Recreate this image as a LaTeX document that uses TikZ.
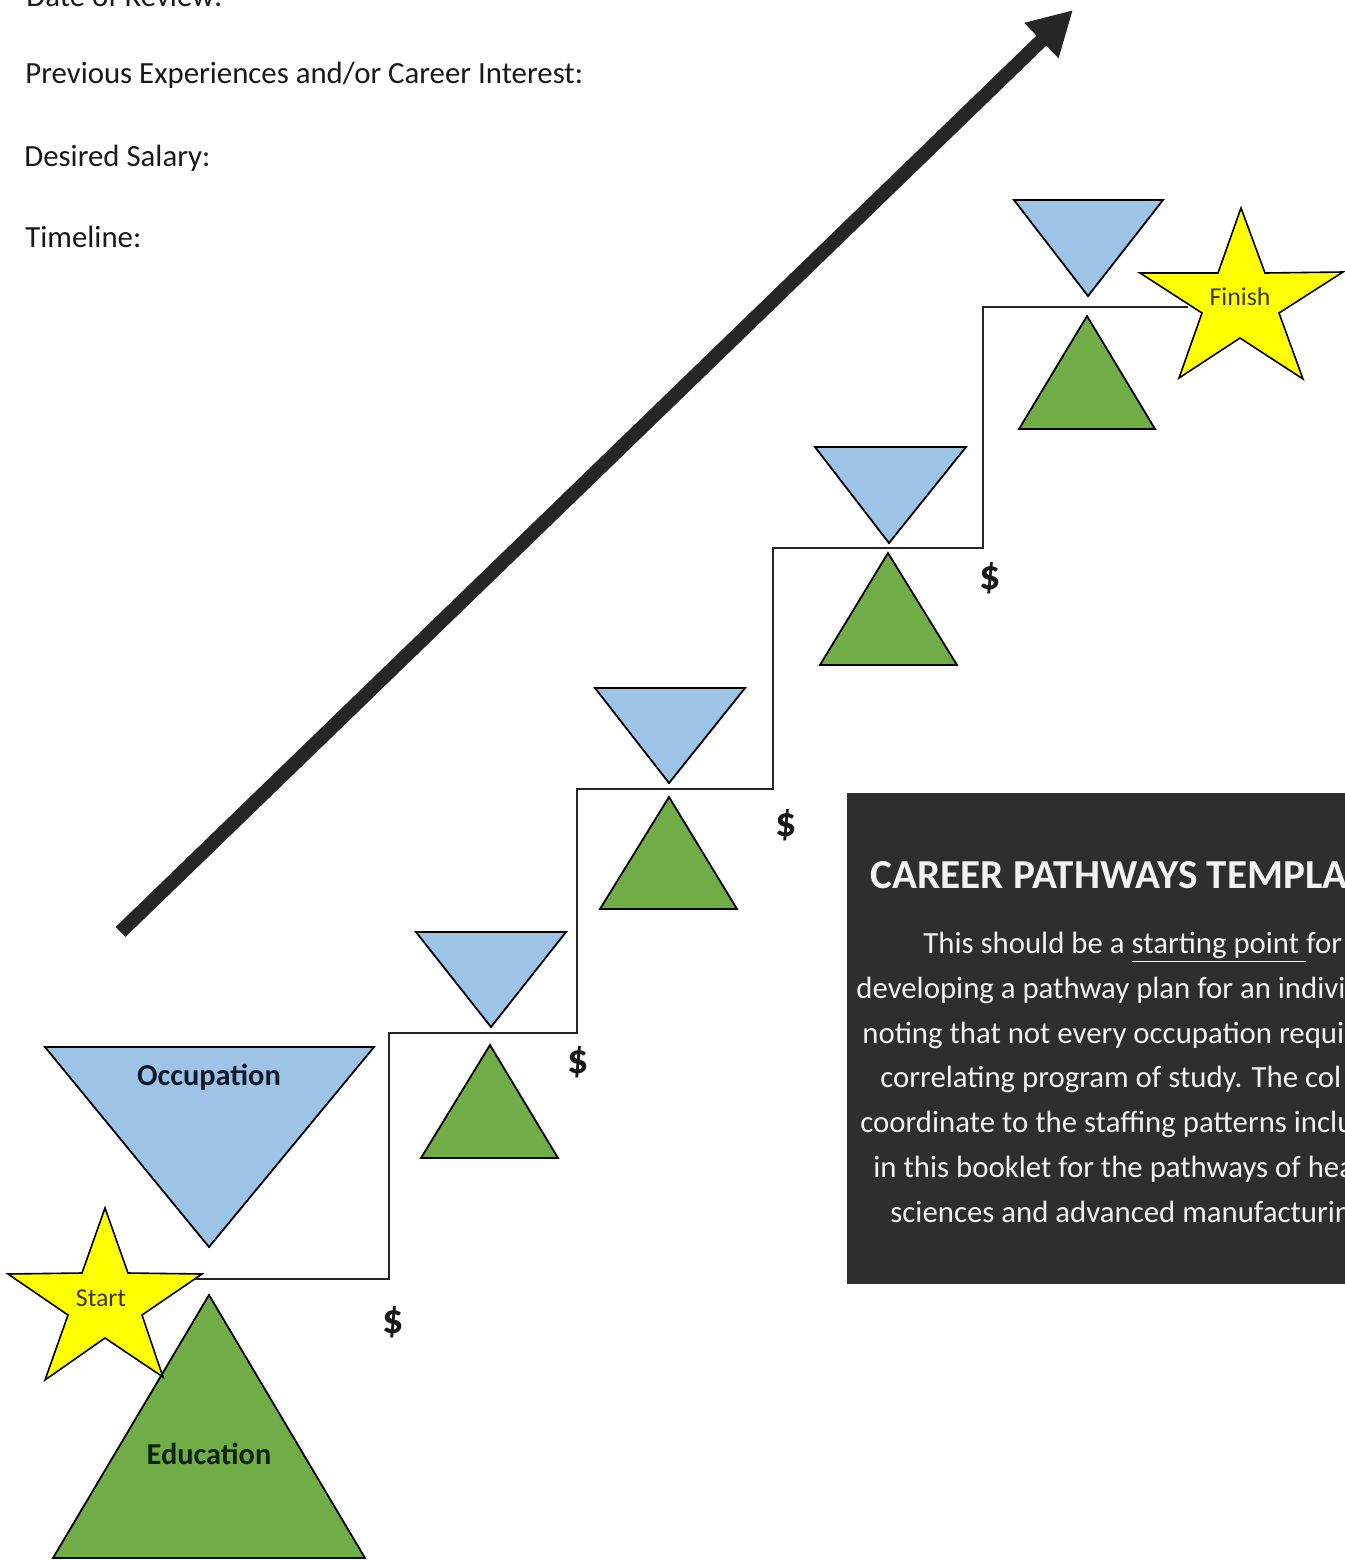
\documentclass[tikz,border=0pt]{standalone}
\usepackage{fontspec}
\setmainfont{Carlito}
\usetikzlibrary{arrows.meta}
\definecolor{occblue}{RGB}{157,195,230}
\definecolor{edugreen}{RGB}{112,173,71}
\definecolor{staryellow}{RGB}{255,255,0}
\definecolor{boxdark}{RGB}{45,47,46}
\definecolor{arrowdark}{RGB}{38,38,38}
\definecolor{occtext}{RGB}{15,25,40}
\definecolor{edutext}{RGB}{15,35,12}
\definecolor{startext}{RGB}{60,55,20}
\tikzset{
  bluetri/.style={fill=occblue, draw=black, line width=0.9pt, line join=miter},
  greentri/.style={fill=edugreen, draw=black, line width=0.9pt, line join=miter},
  starshape/.style={fill=staryellow, draw=black, line width=0.8pt, line join=miter},
  stairline/.style={draw=black!85, line width=1.3pt, line join=miter},
  bigarrow/.style={draw=arrowdark, line width=7pt, line cap=butt, -{Triangle[width=23pt,length=22pt]}},
  formtext/.style={anchor=base west, inner sep=0pt, font=\fontsize{15.4}{18}\selectfont, text=black!90},
  bodytext/.style={anchor=base west, inner sep=0pt, font=\fontsize{15.4}{18}\selectfont, text=white!95!black},
  titletext/.style={anchor=base west, inner sep=0pt, font=\fontsize{20.6}{24}\selectfont\bfseries, text=white!95!black},
  shapelabel/.style={anchor=base, inner sep=0pt, font=\fontsize{15.2}{18}\selectfont\bfseries},
  starlabel/.style={anchor=base, inner sep=0pt, font=\fontsize{12.9}{15}\selectfont, text=startext},
  dollar/.style={anchor=center, inner sep=0pt, font=\fontsize{21}{24}\selectfont\bfseries, text=black!90}
}
\begin{document}
\begin{tikzpicture}[x=0.5pt, y=-0.5pt]
\useasboundingbox (0,0) rectangle (1345,1560);
\clip (0,0) rectangle (1345,1560);
\fill[white] (0,0) rectangle (1345,1560);

% form text
\node[formtext] (date) at (26,6) {Date of Review:};
\node[formtext] (prev) at (25,83) {Previous Experiences and/or Career Interest:};
\node[formtext] (salary) at (24,166) {Desired Salary:};
\node[formtext] (timeline) at (25,247) {Timeline:};

% big arrow
\coordinate (arrowtail) at (120.5,932);
\coordinate (arrowtip) at (1073,10);
\draw[bigarrow] (arrowtail) -- (arrowtip);

% triangles: occupation / education
\filldraw[bluetri] (45,1047) -- (374,1047) -- (209,1247) -- cycle;
\filldraw[greentri] (209,1295) -- (365,1558) -- (53,1558) -- cycle;
\filldraw[bluetri] (416,932) -- (566,932) -- (491,1027) -- cycle;
\filldraw[greentri] (490,1045) -- (558,1158) -- (421,1158) -- cycle;
\filldraw[bluetri] (595,688) -- (745,688) -- (669,783) -- cycle;
\filldraw[greentri] (669,797) -- (737,909) -- (600,909) -- cycle;
\filldraw[bluetri] (815,447) -- (966,447) -- (889,543) -- cycle;
\filldraw[greentri] (888,553) -- (957,665) -- (820,665) -- cycle;
\filldraw[bluetri] (1014,200) -- (1163,200) -- (1088,296) -- cycle;
\filldraw[greentri] (1087,316) -- (1155,429) -- (1019,429) -- cycle;

\node[shapelabel, text=occtext] (occlabel) at (209,1085) {Occupation};
\node[shapelabel, text=edutext] (edulabel) at (209,1464) {Education};

% staircase
\coordinate (stairstart) at (192,1279);
\coordinate (stairend) at (1188,307);
\draw[stairline] (stairstart) -- (389,1279) -- (389,1033) -- (577,1033) -- (577,789)
  -- (773,789) -- (773,548) -- (983,548) -- (983,307) -- (stairend);

% stars
\filldraw[starshape] (105,1208) -- (128,1273) -- (202,1274) -- (142,1315) -- (163,1377)
  -- (105,1338) -- (45,1380) -- (68,1315) -- (8,1274) -- (82,1273) -- cycle;
\node[starlabel] (startlabel) at (101,1306) {Start};
\filldraw[starshape] (1241,208) -- (1265,273) -- (1343,272) -- (1279,313) -- (1303,379)
  -- (1240,338) -- (1179,378) -- (1202,313) -- (1140,273) -- (1218,273) -- cycle;
\node[starlabel] (finishlabel) at (1240,305) {Finish};

% dollar signs
\node[dollar] (d1) at (393,1322) {\$};
\node[dollar] (d2) at (578,1062) {\$};
\node[dollar] (d3) at (786,825) {\$};
\node[dollar] (d4) at (990,578) {\$};

% dark box
\fill[boxdark] (847,793) rectangle (1360,1284);
\node[titletext] (title) at (870,888) {CAREER PATHWAYS TEMPLA};
\node[bodytext] (l1) at (923,953) {This should be a \underline{starting point\ }for};
\node[bodytext] (l2) at (856,998) {developing a pathway plan for an indivi};
\node[bodytext] (l3) at (862,1043) {noting that not every occupation requi};
\node[bodytext] (l4) at (880,1087) {correlating program of study. The col};
\node[bodytext] (l5) at (860,1132) {coordinate to the staffing patterns inclu};
\node[bodytext] (l6) at (873,1177) {in this booklet for the pathways of hea};
\node[bodytext] (l7) at (890,1222) {sciences and advanced manufacturin};
\end{tikzpicture}
\end{document}
